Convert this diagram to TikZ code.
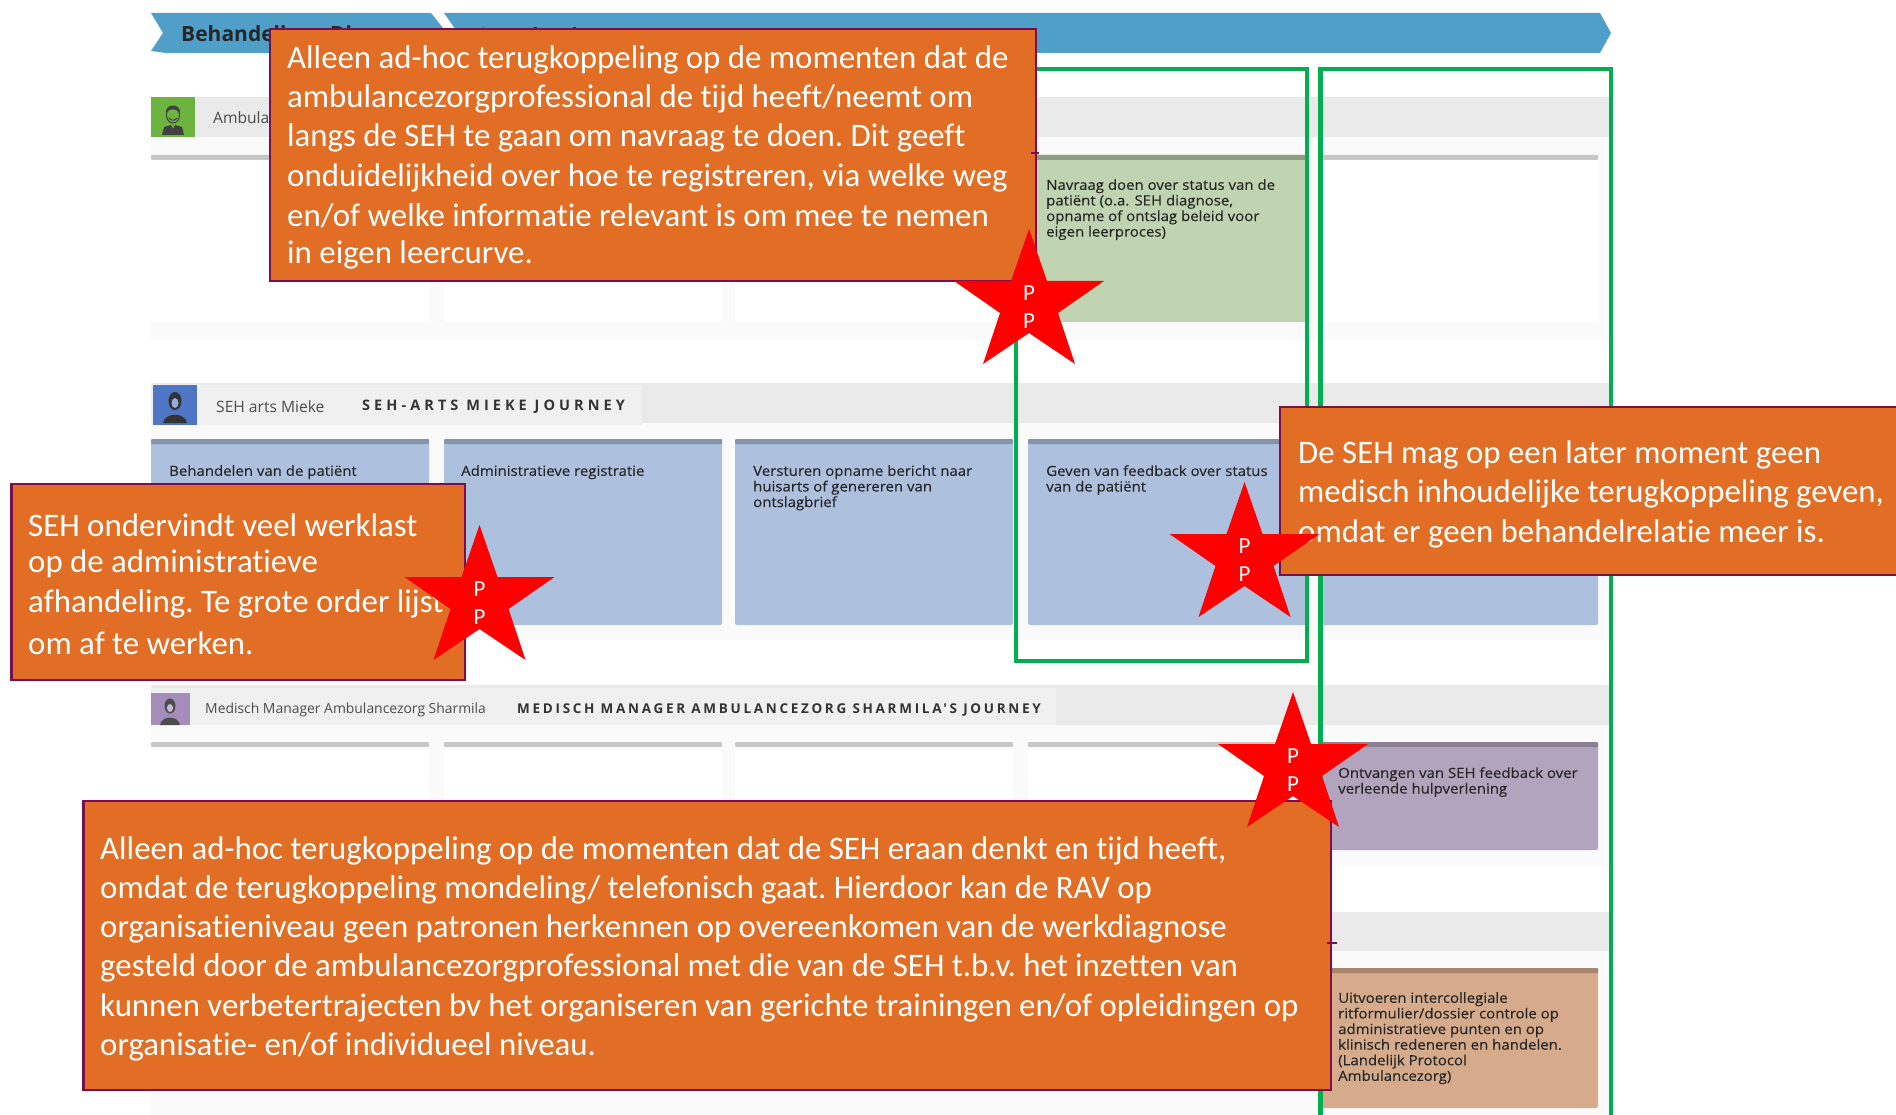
\documentclass[tikz,border=0pt]{standalone}
\usepackage{fontspec}
\setmainfont[Ligatures=NoCommon]{Carlito}
\newfontfamily\cardfont{Open Sans}
\definecolor{orangebox}{HTML}{E26D24}
\definecolor{plum}{HTML}{7B0F4B}
\definecolor{greenframe}{HTML}{00B050}
\definecolor{bannerblue}{HTML}{4F9FC8}
\definecolor{headgray}{HTML}{EAEAEA}
\definecolor{headlight}{HTML}{F0F0F0}
\definecolor{lanebg}{HTML}{FAFAFA}
\definecolor{cardgreen}{HTML}{C1D4B2}
\definecolor{cardgreenbar}{HTML}{8F9D83}
\definecolor{cardblue}{HTML}{ADC0DE}
\definecolor{cardbluebar}{HTML}{8494AD}
\definecolor{cardpurple}{HTML}{B3A4BD}
\definecolor{cardpurplebar}{HTML}{8B7F93}
\definecolor{cardtan}{HTML}{D5AB8C}
\definecolor{cardtanbar}{HTML}{A8866E}
\definecolor{icongreen}{HTML}{6DB33F}
\definecolor{iconblue}{HTML}{4F75C5}
\definecolor{iconpurple}{HTML}{A58DBB}
\tikzset{
  x=1pt,y=-1pt,
  note/.style={fill=orangebox,draw=plum,line width=2.8pt},
  notetext/.style={anchor=west,text=white,inner sep=0pt,font=\frenchspacing\fontsize{32.85}{39}\selectfont},
  frame/.style={draw=greenframe,line width=4.6pt},
  cardtext/.style={anchor=north west,align=left,inner sep=0pt,text=black!85,font=\cardfont\addfontfeature{FakeStretch=1.07,FakeBold=0.25}\fontsize{14}{15.6}\selectfont},
  startext/.style={text=white,inner sep=0pt,font=\fontsize{23}{28}\selectfont},
  persontext/.style={anchor=west,inner sep=0pt,text=black!70,font=\cardfont\fontsize{15.6}{16}\selectfont},
  jrntext/.style={anchor=west,inner sep=0pt,text=black!80,font=\cardfont\bfseries\fontsize{13.5}{16}\selectfont},
  bantext/.style={anchor=west,inner sep=0pt,text=black!85,font=\cardfont\bfseries\fontsize{21}{24}\selectfont},
}
\newcommand{\cardbox}[6]{% x0 x1 y0 y1 fill bar
  \fill[#5,rounded corners=2pt] (#1,#3) rectangle (#2,#4);
  \fill[#6,rounded corners=1pt] (#1,#3) rectangle (#2,#3+5);
}
\newcommand{\ppstar}[3]{% name cx ytop
  \fill[red] (#2,#3) -- (#2+18,#3+52) -- (#2+75,#3+52) -- (#2+29,#3+84) -- (#2+46,#3+135)
    -- (#2,#3+104) -- (#2-46,#3+135) -- (#2-29,#3+84) -- (#2-75,#3+52) -- (#2-18,#3+52) -- cycle;
  \node[startext] (#1a) at (#2,#3+64) {P};
  \node[startext] (#1b) at (#2,#3+92) {P};
}
\begin{document}
\begin{tikzpicture}
\useasboundingbox (0,0) rectangle (1896,1115);
\fill[white] (0,0) rectangle (1896,1115);
% banner
\fill[bannerblue] (151,13) -- (431,13) -- (447,33) -- (431,53) -- (166,53) -- (151,51) -- (163,33) -- cycle;
\fill[bannerblue] (444,13) -- (1600,13) -- (1611,33) -- (1600,53) -- (444,53) -- (458,33) -- cycle;
\node[bantext] (bana) at (181,36) {Behandeling};
\node[bantext] (banb) at (330,36) {Diagnose};
\node[bantext] (banc) at (475,36) {Overdracht};
% lanes
\fill[lanebg] (151,137) rectangle (1609,340);
\fill[headgray] (151,97) rectangle (1609,137);
\fill[lanebg] (151,423) rectangle (1609,640);
\fill[headgray] (151,383) rectangle (1609,423);
\fill[headlight] (151,385) rectangle (642,425);
\fill[lanebg] (151,725) rectangle (1609,865);
\fill[headgray] (151,685) rectangle (1609,725);
\fill[headlight] (151,688) rectangle (1056,725);
\fill[lanebg] (151,951) rectangle (1609,1115);
\fill[headgray] (151,912) rectangle (1609,951);
% cards lane 1
\foreach \a/\b in {151/429,444/722,735/1013,1320/1598}{\cardbox{\a}{\b}{155}{322}{white}{black!22}}
\cardbox{1028}{1306}{155}{322}{cardgreen}{cardgreenbar}
% cards lane 2
\foreach \a/\b in {151/429,444/722,735/1013,1028/1306,1320/1598}{\cardbox{\a}{\b}{439}{625}{cardblue}{cardbluebar}}
% cards lane 3
\foreach \a/\b in {151/429,444/722,735/1013,1028/1306}{\cardbox{\a}{\b}{742}{850}{white}{black!22}}
\cardbox{1320}{1598}{742}{850}{cardpurple}{cardpurplebar}
% card lane 4
\cardbox{1320}{1598}{968}{1108}{cardtan}{cardtanbar}
% icons
\fill[icongreen] (151,97) rectangle (195,137);
\draw[black!75,line width=1pt] (173,115) ellipse (6.5pt and 8pt);
\fill[black!75] (166,113) .. controls (165,103) and (181,103) .. (180,113) .. controls (176,108) and (170,108) .. (166,113) -- cycle;
\draw[black!75,line width=1pt] (169,118) .. controls (171,121) and (175,121) .. (177,118);
\fill[black!75] (162,135) -- (164,127) -- (171,125) -- (173,129) -- (175,125) -- (182,127) -- (184,135) -- cycle;
\fill[iconblue] (153,385) rectangle (197,425);
\fill[black!80] (175,401) ellipse (6.5pt and 9pt);
\fill[black!80] (163,423) .. controls (165,412) and (185,412) .. (187,423) -- cycle;
\fill[iconblue!60!white] (175,403) ellipse (3.5pt and 5pt);
\fill[iconpurple] (151,693) rectangle (190,725);
\fill[black!70] (170,706) ellipse (5.5pt and 7.5pt);
\fill[iconpurple!60!white] (170,708) ellipse (3pt and 4pt);
\fill[black!70] (160,725) .. controls (162,715) and (178,715) .. (180,725) -- cycle;
% header texts
\node[persontext] (ambu) at (213,119) {Ambulancezorg};
\node[persontext] (mieke) at (216,407) {SEH arts Mieke};
\node[jrntext,font=\cardfont\bfseries\fontsize{14.5}{16}\selectfont\addfontfeature{LetterSpace=28}] (miekej) at (362,407) {SEH-ARTS MIEKE JOURNEY};
\node[persontext,font=\cardfont\fontsize{13.9}{16}\selectfont] (sharm) at (205,710) {Medisch Manager Ambulancezorg Sharmila};
\node[jrntext,font=\cardfont\bfseries\fontsize{13.5}{16}\selectfont\addfontfeature{LetterSpace=20}] (sharmj) at (517,710) {MEDISCH MANAGER AMBULANCEZORG SHARMILA'S JOURNEY};
% card texts
\node[cardtext] (t1) at (1046,179) {Navraag doen over status van de\\patiënt (o.a. SEH diagnose,\\opname of ontslag beleid voor\\eigen leerproces)};
\node[cardtext] (t2) at (169,465) {Behandelen van de patiënt};
\node[cardtext] (t3) at (461,465) {Administratieve registratie};
\node[cardtext] (t4) at (753,465) {Versturen opname bericht naar\\huisarts of genereren van\\ontslagbrief};
\node[cardtext] (t5) at (1046,465) {Geven van feedback over status\\van de patiënt};
\node[cardtext] (t6) at (1338,767) {Ontvangen van SEH feedback over\\verleende hulpverlening};
\node[cardtext] (t7) at (1338,992) {Uitvoeren intercollegiale\\ritformulier/dossier controle op\\administratieve punten en op\\klinisch redeneren en handelen.\\(Landelijk Protocol\\Ambulancezorg)};
% green frames
\draw[frame] (1016,69) rectangle (1307,661);
\draw[frame] (1320.5,1115) -- (1320.5,69) -- (1611,69) -- (1611,1115);
% orange notes
\draw[note] (270,29) rectangle (1036,281);
\draw[plum,line width=1.2pt] (1031,153) -- (1039,153);
\foreach \y/\s [count=\i] in {60/{Alleen ad-hoc terugkoppeling op de momenten dat de},99/{ambulancezorgprofessional de tijd heeft/neemt om},138/{langs de SEH te gaan om navraag te doen. Dit geeft},177.5/{onduidelijkheid over hoe te registreren, via welke weg},216/{en/of welke informatie relevant is om mee te nemen},255/{in eigen leercurve.}}
  \node[notetext] (a\i) at (287,\y) {\s};
\draw[note] (11.5,484) rectangle (465,680);
\foreach \y/\s [count=\i] in {525/{SEH ondervindt veel werklast},564/{op de administratieve},604/{afhandeling. Te grote order lijst},643/{om af te werken.}}
  \node[notetext] (b\i) at (28,\y) {\s};
\draw[note] (1900,407) -- (1280,407) -- (1280,575) -- (1900,575);
\foreach \y/\s [count=\i] in {455/{De SEH mag op een later moment geen},494/{medisch inhoudelijke terugkoppeling geven,},534/{omdat er geen behandelrelatie meer is.}}
  \node[notetext] (c\i) at (1298,\y) {\s};
\draw[note] (83.5,801) rectangle (1331,1090);
\draw[plum,line width=1.2pt] (1327,943) -- (1337,943);
\foreach \y/\s [count=\i] in {851/{Alleen ad-hoc terugkoppeling op de momenten dat de SEH eraan denkt en tijd heeft,},890/{omdat de terugkoppeling mondeling/ telefonisch gaat. Hierdoor kan de RAV op},929/{organisatieniveau geen patronen herkennen op overeenkomen van de werkdiagnose},968/{gesteld door de ambulancezorgprofessional met die van de SEH t.b.v. het inzetten van},1008/{kunnen verbetertrajecten bv het organiseren van gerichte trainingen en/of opleidingen op},1047/{organisatie- en/of individueel niveau.}}
  \node[notetext] (d\i) at (100,\y) {\s};
% stars
\ppstar{sa}{1029}{229}
\ppstar{sb}{479.5}{525}
\ppstar{sc}{1244.5}{482}
\ppstar{sd}{1293}{692}
\end{tikzpicture}
\end{document}
